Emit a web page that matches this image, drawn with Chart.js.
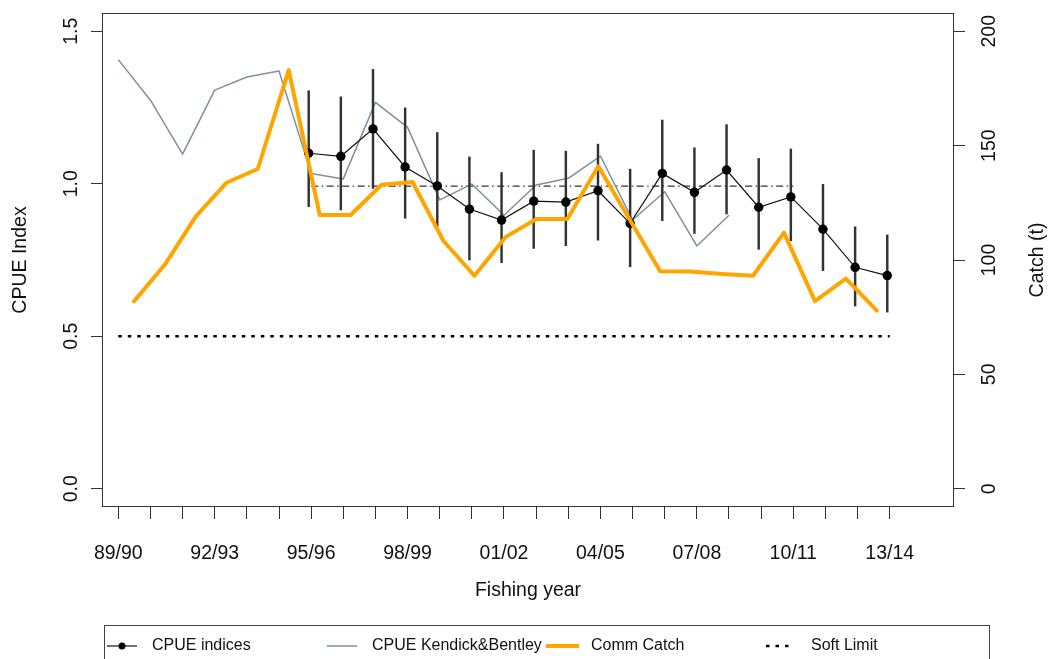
<!DOCTYPE html>
<html>
<head>
<meta charset="utf-8">
<script src="https://cdn.jsdelivr.net/npm/chart.js@4.4.1/dist/chart.umd.min.js"></script>
<style>
  html, body { margin: 0; padding: 0; background: #fff; }
</style>
</head>
<body>
<canvas id="cpue" width="1049" height="659"></canvas>
<script>
// fishing years (x axis is the index into this list)
const yearLabels = ['89/90', '90/91', '91/92', '92/93', '93/94', '94/95', '95/96', '96/97',
  '97/98', '98/99', '99/00', '00/01', '01/02', '02/03', '03/04', '04/05', '05/06', '06/07',
  '07/08', '08/09', '09/10', '10/11', '11/12', '12/13', '13/14'];
const cpueTicks = [0, 0.5, 1.0, 1.5];
const catchTicks = [0, 50, 100, 150, 200];

// standardised CPUE indices with CI, from 95/96
const cpueStart = 6;
const cpueIndex = [1.10, 1.09, 1.18, 1.055, 0.993, 0.917, 0.881, 0.943, 0.940, 0.977,
  0.870, 1.034, 0.972, 1.045, 0.923, 0.957, 0.851, 0.726, 0.699];
const cpueUpper = [1.305, 1.285, 1.375, 1.249, 1.168, 1.088, 1.037, 1.110, 1.107, 1.130,
  1.048, 1.209, 1.118, 1.194, 1.083, 1.114, 0.998, 0.859, 0.832];
const cpueLower = [0.925, 0.914, 0.985, 0.887, 0.859, 0.750, 0.741, 0.788, 0.797, 0.815,
  0.728, 0.879, 0.837, 0.901, 0.785, 0.813, 0.715, 0.599, 0.579];

// older CPUE series (Kendick & Bentley), 89/90 - 08/09
const kbIndex = [1.407, 1.274, 1.097, 1.307, 1.350, 1.370, 1.034, 1.016, 1.267, 1.185,
  0.947, 0.999, 0.897, 0.996, 1.018, 1.091, 0.881, 0.974, 0.796, 0.897];

// commercial catch (t), 89/90 - 13/14
const commCatch = [81.9, 98, 119.1, 133.9, 139.8, 183, 119.7, 119.7, 132.9, 134.1,
  108.3, 93.1, 110, 117.9, 117.9, 141, 118, 95.1, 95, 93.9, 93.1, 112, 82, 91.9, 77.9];

// reference lines
const softLimit = 0.5;
const refLevel = 0.992;
const refFrom = 6, refTo = 21;

const FONT = "'Liberation Sans', Arial, Helvetica, sans-serif";

const toPoints = (vals, start) => vals.map((v, i) => ({ x: start + i, y: v }));

// R-style rotated text (reads bottom to top)
function upText(ctx, text, x, y) {
  ctx.save();
  ctx.translate(x, y);
  ctx.rotate(-Math.PI / 2);
  ctx.fillText(text, 0, 0);
  ctx.restore();
}

const legendEntries = [
  { label: 'CPUE indices', from: 107, to: 137, text: 152 },
  { label: 'CPUE Kendick&Bentley', from: 327, to: 357, text: 372 },
  { label: 'Comm Catch', from: 546, to: 579, text: 591 },
  { label: 'Soft Limit', from: 766, to: 792, text: 811 }
];

const frameAndText = {
  id: 'frameAndText',
  afterDraw(chart) {
    const { ctx, chartArea: a, scales } = chart;
    ctx.save();

    // box round the plot
    ctx.strokeStyle = '#333';
    ctx.lineWidth = 1;
    ctx.strokeRect(Math.round(a.left) - 0.5, Math.round(a.top) + 0.5,
      Math.round(a.right - a.left) + 1, Math.round(a.bottom - a.top) - 1);

    // axis labels
    ctx.fillStyle = '#111';
    ctx.textAlign = 'center';
    ctx.textBaseline = 'middle';
    ctx.font = `19.5px ${FONT}`;
    cpueTicks.forEach(v => upText(ctx, v.toFixed(1), a.left - 31, scales.y.getPixelForValue(v)));
    catchTicks.forEach(v => upText(ctx, String(v), a.right + 37, scales.y2.getPixelForValue(v)));
    const midY = (a.top + a.bottom) / 2;
    upText(ctx, 'CPUE Index', 20.5, midY);
    upText(ctx, 'Catch (t)', a.right + 85, midY);
    ctx.fillText('Fishing year', (a.left + a.right) / 2, 591);

    // legend (bottom, cut by the page edge)
    ctx.strokeStyle = '#444';
    ctx.lineWidth = 1;
    ctx.strokeRect(104.5, 625.5, 885, 60);
    ctx.font = `16px ${FONT}`;
    ctx.textAlign = 'left';
    const ly = 646;
    legendEntries.forEach(e => {
      const ds = chart.data.datasets.find(d => d.label === e.label);
      ctx.save();
      ctx.strokeStyle = ds.borderColor;
      ctx.lineWidth = ds.borderWidth;
      ctx.setLineDash(ds.borderDash || []);
      ctx.beginPath();
      ctx.moveTo(e.from, ly);
      ctx.lineTo(e.to, ly);
      ctx.stroke();
      if (ds.pointRadius > 0) {
        ctx.fillStyle = ds.pointBackgroundColor;
        ctx.beginPath();
        ctx.arc((e.from + e.to) / 2, ly, 3.5, 0, Math.PI * 2);
        ctx.fill();
      }
      ctx.restore();
      ctx.fillText(e.label, e.text, ly);
    });

    ctx.restore();
  }
};

const tickGrid = { drawOnChartArea: false, drawTicks: true, tickLength: 12, color: '#333', lineWidth: 1 };

new Chart(document.getElementById('cpue'), {
  type: 'line',
  data: {
    datasets: [
      {
        label: 'Comm Catch',
        data: toPoints(commCatch, 0),
        xAxisID: 'xc', yAxisID: 'y2',
        borderColor: '#FFA500', borderWidth: 4,
        borderJoinStyle: 'round', borderCapStyle: 'round',
        pointRadius: 0, order: 0
      },
      {
        label: 'CPUE indices',
        data: toPoints(cpueIndex, cpueStart),
        xAxisID: 'xi', yAxisID: 'y',
        borderColor: '#111', borderWidth: 1.2,
        pointRadius: 4.7, pointBorderWidth: 0, pointBackgroundColor: '#000',
        order: 1
      },
      {
        type: 'bar',
        label: 'CI',
        data: cpueLower.map((lo, i) => ({ x: cpueStart + i, y: [lo, cpueUpper[i]] })),
        xAxisID: 'xi', yAxisID: 'y',
        backgroundColor: '#333', barThickness: 1.8, grouped: false,
        order: 2
      },
      {
        label: 'CPUE Kendick&Bentley',
        data: toPoints(kbIndex, 0),
        xAxisID: 'x', yAxisID: 'y',
        borderColor: '#7f8fa0', borderWidth: 1.5, borderJoinStyle: 'round',
        pointRadius: 0, order: 3
      },
      {
        label: 'Soft Limit',
        data: [{ x: 0, y: softLimit }, { x: yearLabels.length - 1, y: softLimit }],
        xAxisID: 'x', yAxisID: 'y',
        borderColor: '#000', borderWidth: 2.5, borderDash: [3.5, 6],
        pointRadius: 0, order: 4
      },
      {
        label: 'Reference period mean',
        data: [{ x: refFrom, y: refLevel }, { x: refTo, y: refLevel }],
        xAxisID: 'x', yAxisID: 'y',
        borderColor: '#333', borderWidth: 1.2, borderDash: [7, 3.5, 1.5, 3.5],
        pointRadius: 0, order: 5
      }
    ]
  },
  options: {
    responsive: false,
    animation: false,
    events: [],
    layout: { padding: { top: 13, left: 0, right: 0, bottom: 0 } },
    plugins: {
      legend: { display: false },
      tooltip: { enabled: false }
    },
    scales: {
      x: {
        type: 'linear', position: 'bottom', offset: false,
        min: -0.476, max: 25.97,
        afterBuildTicks: (scale) => { scale.ticks = yearLabels.map((_, i) => ({ value: i })); },
        ticks: {
          autoSkip: false, maxRotation: 0, minRotation: 0, padding: 23,
          color: '#111', font: { family: FONT, size: 19.5 },
          callback: (value) => (value % 3 === 0 ? yearLabels[value] : '')
        },
        grid: tickGrid,
        border: { display: false },
        afterFit: (scale) => { scale.height = 152; }
      },
      xi: { type: 'linear', position: 'bottom', display: false, offset: false, grid: { offset: false }, min: -0.40, max: 26.045 },
      xc: { type: 'linear', position: 'bottom', display: false, offset: false, min: -1.0, max: 26.46 },
      y: {
        type: 'linear', position: 'left',
        min: -0.06, max: 1.56,
        afterBuildTicks: (scale) => { scale.ticks = cpueTicks.map(v => ({ value: v })); },
        ticks: { color: 'rgba(0,0,0,0)', font: { family: FONT, size: 12 } },
        grid: tickGrid,
        border: { display: false },
        afterFit: (scale) => { scale.width = 103; }
      },
      y2: {
        type: 'linear', position: 'right',
        min: -8, max: 208,
        afterBuildTicks: (scale) => { scale.ticks = catchTicks.map(v => ({ value: v })); },
        ticks: { color: 'rgba(0,0,0,0)', font: { family: FONT, size: 12 } },
        grid: tickGrid,
        border: { display: false },
        afterFit: (scale) => { scale.width = 96; }
      }
    }
  },
  plugins: [frameAndText]
});
</script>
</body>
</html>
